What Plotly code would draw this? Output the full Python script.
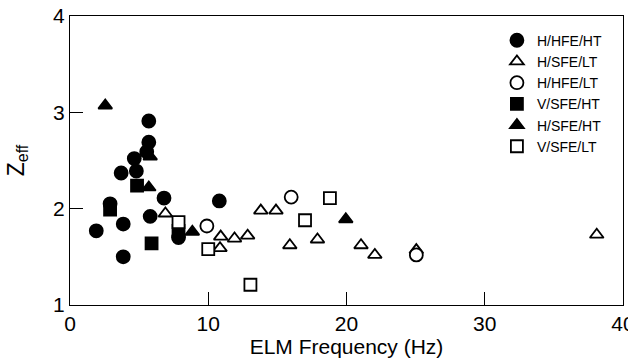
import plotly.graph_objects as go

# H/HFE/HT (filled circles)
hhfe_ht_x = [1.9, 2.9, 3.7, 3.85, 3.85, 4.65, 4.8, 5.55, 5.7, 5.7, 5.8, 6.8, 7.85, 10.8]
hhfe_ht_y = [1.77, 2.05, 2.37, 1.84, 1.50, 2.52, 2.39, 2.59, 2.69, 2.91, 1.92, 2.11, 1.70, 2.08]
# H/SFE/LT (open triangles)
hsfe_lt_x = [6.9, 10.85, 10.9, 11.9, 12.85, 13.8, 14.9, 15.9, 17.9, 21.05, 22.05, 25.05, 38.1]
hsfe_lt_y = [1.95, 1.59, 1.71, 1.69, 1.72, 1.98, 1.98, 1.62, 1.68, 1.62, 1.52, 1.57, 1.73]
# H/HFE/LT (open circles)
hhfe_lt_x = [9.9, 16.0, 25.05]
hhfe_lt_y = [1.82, 2.12, 1.52]
# V/SFE/HT (filled squares)
vsfe_ht_x = [2.9, 4.85, 5.9, 7.85]
vsfe_ht_y = [1.99, 2.24, 1.64, 1.77]
# H/SFE/HT (filled triangles)
hsfe_ht_x = [2.55, 5.8, 5.7, 8.85, 19.95]
hsfe_ht_y = [3.07, 2.54, 2.22, 1.76, 1.89]
# V/SFE/LT (open squares)
vsfe_lt_x = [7.85, 10.0, 13.05, 17.0, 18.8]
vsfe_lt_y = [1.86, 1.58, 1.21, 1.88, 2.11]

x_ticks = [0, 10, 20, 30, 40]
y_ticks = [1, 2, 3, 4]

series = [
    ("H/HFE/HT", hhfe_ht_x, hhfe_ht_y, "circle", "black"),
    ("H/SFE/LT", hsfe_lt_x, hsfe_lt_y, "triangle-up", "white"),
    ("H/HFE/LT", hhfe_lt_x, hhfe_lt_y, "circle", "white"),
    ("V/SFE/HT", vsfe_ht_x, vsfe_ht_y, "square", "black"),
    ("H/SFE/HT", hsfe_ht_x, hsfe_ht_y, "triangle-up", "black"),
    ("V/SFE/LT", vsfe_lt_x, vsfe_lt_y, "square", "white"),
]

fig = go.Figure()
for name, xs, ys, sym, fill in series:
    size = 13 if sym == "circle" else 12
    fig.add_trace(go.Scatter(
        x=xs, y=ys, mode="markers", name=name,
        marker=dict(symbol=sym, size=size, color=fill,
                    line=dict(color="black", width=1.8)),
    ))

font_family = "Liberation Sans, Arial, sans-serif"
fig.update_layout(
    width=628, height=358,
    margin=dict(l=70, r=5, t=16, b=53),
    paper_bgcolor="white", plot_bgcolor="white",
    font=dict(family=font_family, color="black", size=21),
    showlegend=True,
    legend=dict(x=0.772, y=0.97, xanchor="left", yanchor="top",
                font=dict(size=14, color="black"), bgcolor="rgba(0,0,0,0)",
                tracegroupgap=0, itemsizing="trace"),
    xaxis=dict(range=[0, 40], tickvals=x_ticks, ticktext=[str(v) for v in x_ticks],
               ticks="inside", ticklen=13, tickcolor="black", tickwidth=1,
               ticklabeloverflow="allow", automargin=False,
               showline=True, linecolor="black", linewidth=1, mirror=True,
               showgrid=False, zeroline=False,
               title=dict(text="ELM Frequency (Hz)", font=dict(size=21), standoff=0)),
    yaxis=dict(range=[1, 4], tickvals=y_ticks, ticktext=[str(v) for v in y_ticks],
               ticks="inside", ticklen=13, tickcolor="black", tickwidth=1,
               ticklabeloverflow="allow", automargin=False,
               showline=True, linecolor="black", linewidth=1, mirror=True,
               showgrid=False, zeroline=False,
               title=dict(text="Z<sub>eff</sub>", font=dict(size=23), standoff=22)),
)

fig.write_html("out.html")
